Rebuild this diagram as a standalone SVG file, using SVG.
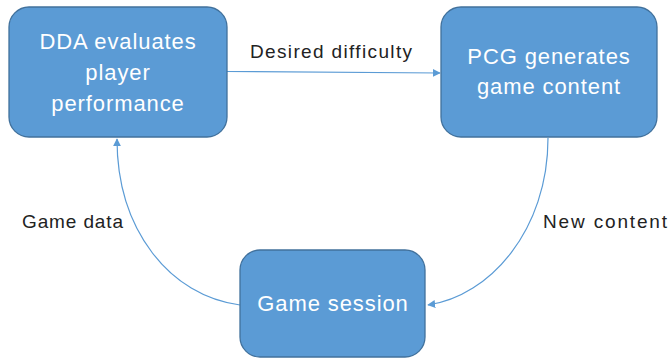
<svg xmlns="http://www.w3.org/2000/svg" width="670" height="364" viewBox="0 0 670 364">
<style>
.box{fill:#5B9BD5;stroke:#41719C;stroke-width:1.3}
.bt{font-family:"Liberation Sans",Arial,sans-serif;font-size:22px;fill:#fff;text-anchor:middle;letter-spacing:0.9px}
.lbl{font-family:"Liberation Sans",Arial,sans-serif;font-size:19px;fill:#222}
.c{fill:none;stroke:#5B9BD5;stroke-width:1.2}
</style>
<defs>
<marker id="ah" viewBox="0 0 10 10" refX="9" refY="5" markerWidth="8" markerHeight="8" markerUnits="userSpaceOnUse" orient="auto">
<path d="M0,0 L10,5 L0,10 z" fill="#5B9BD5"/>
</marker>
</defs>
<rect width="670" height="364" fill="#fff"/>
<g id="connectors">
<path class="c" d="M226,71.5 L440,73" marker-end="url(#ah)"/>
<path class="c" d="M548,138 C548,230 490,296 428,305" marker-end="url(#ah)"/>
<path class="c" d="M240,305 C170,296 117,230 117,139" marker-end="url(#ah)"/>
<text class="lbl" x="250" y="58" textLength="162" lengthAdjust="spacing">Desired difficulty</text>
<text class="lbl" x="22" y="228" textLength="101" lengthAdjust="spacing">Game data</text>
<text class="lbl" x="543" y="228" textLength="124" lengthAdjust="spacing">New content</text>
</g>
<g id="dda">
<rect class="box" x="9" y="7" width="218" height="130" rx="20"/>
<text class="bt" x="118" y="49">DDA evaluates</text>
<text class="bt" x="118" y="80">player</text>
<text class="bt" x="118" y="111">performance</text>
</g>
<g id="pcg">
<rect class="box" x="441" y="7" width="216" height="130" rx="20"/>
<text class="bt" x="549" y="64">PCG generates</text>
<text class="bt" x="549" y="94">game content</text>
</g>
<g id="session">
<rect class="box" x="240" y="250" width="185" height="107" rx="20"/>
<text class="bt" x="333" y="311">Game session</text>
</g>
</svg>
